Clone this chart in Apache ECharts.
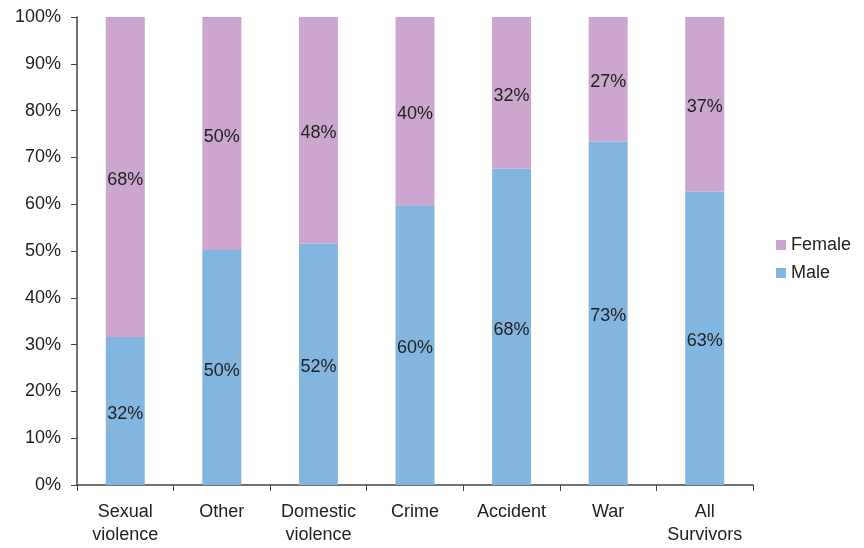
<!DOCTYPE html>
<html><head><meta charset="utf-8">
<script src="https://cdn.jsdelivr.net/npm/echarts@6/dist/echarts.min.js"></script>
<style>html,body{margin:0;padding:0;background:#fff}#c{width:864px;height:548px}</style>
</head><body><div id="c"></div>
<script>
const categories = ["Sexual\nviolence", "Other", "Domestic\nviolence", "Crime", "Accident", "War", "All\nSurvivors"];
const maleValues = [31.6, 50.2, 51.6, 59.8, 67.6, 73.4, 62.7];
const femaleValues = [68.4, 49.8, 48.4, 40.2, 32.4, 26.6, 37.3];
const yTicks = [0, 10, 20, 30, 40, 50, 60, 70, 80, 90, 100];

const font = 'Liberation Sans, Arial, sans-serif';
const lbl = {show: true, position: 'inside', offset: [0, 3], color: '#222', fontSize: 18, fontFamily: font,
  formatter: p => Math.round(p.value) + '%'};
const chart = echarts.init(document.getElementById('c'));
chart.setOption({
  animation: false,
  grid: {left: 77, right: 111, top: 17, bottom: 63},
  legend: {
    orient: 'vertical', left: 771, top: 231, itemWidth: 10, itemHeight: 10, itemGap: 10,
    icon: 'rect',
    textStyle: {fontSize: 18, fontFamily: font, color: '#222'},
    data: ['Female', 'Male']
  },
  xAxis: {
    type: 'category', data: categories,
    axisLine: {lineStyle: {color: '#444', width: 1.5}},
    axisTick: {show: true, interval: 0, length: 6, lineStyle: {color: '#444'}},
    axisLabel: {interval: 0, hideOverlap: false, fontSize: 18, fontFamily: font, color: '#222', margin: 16, lineHeight: 23}
  },
  yAxis: {
    type: 'value', min: yTicks[0], max: yTicks[yTicks.length - 1], interval: 10,
    axisLine: {show: true, lineStyle: {color: '#444', width: 1.5}},
    axisTick: {show: true, length: 6, lineStyle: {color: '#444'}},
    splitLine: {show: false},
    axisLabel: {fontSize: 18, fontFamily: font, color: '#222', margin: 16, formatter: '{value}%'}
  },
  series: [
    {name: 'Male', type: 'bar', stack: 's', barWidth: 39, data: maleValues,
     itemStyle: {color: '#82B6DE'}, label: lbl},
    {name: 'Female', type: 'bar', stack: 's', barWidth: 39, data: femaleValues,
     itemStyle: {color: '#CCA6CF'}, label: lbl}
  ]
});
</script></body></html>
